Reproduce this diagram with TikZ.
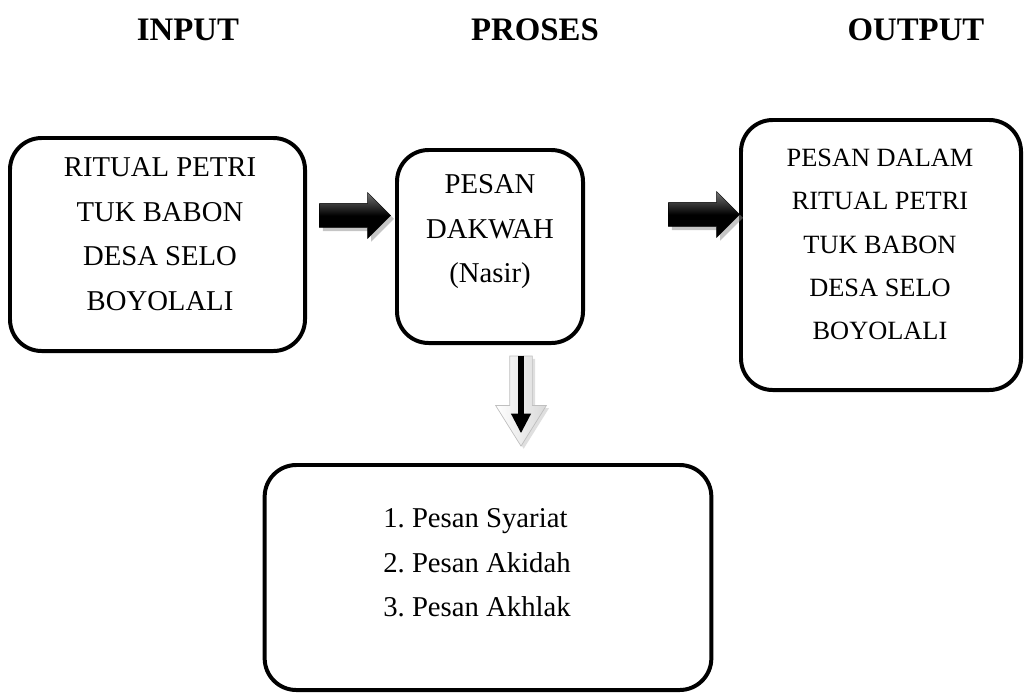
\documentclass[tikz,border=0pt]{standalone}
\usepackage{fontspec}
\setmainfont{Liberation Serif}
\usetikzlibrary{shapes.arrows,shadows,arrows.meta}

\begin{document}
\begin{tikzpicture}[x=0.03cm,y=-0.03cm,
		box/.style={draw=black,line width=3.4pt,rounded corners=0.95cm},
		heading/.style={font=\fontsize{28}{30}\selectfont\bfseries},
		boxtext/.style={align=center,font=\fontsize{24.5}{38}\selectfont},
		darkarrow/.style={single arrow,inner sep=0pt,minimum height=2.13cm,
			inner ysep=0.36cm,single arrow head extend=0.32cm,
			top color=black!55,bottom color=black,middle color=black,
			draw=black,line width=0.4pt,
			drop shadow={fill=black!45,shadow xshift=0.1cm,shadow yshift=-0.1cm}},
		lightarrow/.style={single arrow,inner sep=0pt,minimum height=2.7cm,
			inner xsep=0.33cm,single arrow head extend=0.42cm,single arrow tip angle=64,
			shape border rotate=270,left color=white,right color=black!15,
			draw=black!25,line width=0.6pt,
			drop shadow={fill=black!25,shadow xshift=0.08cm,shadow yshift=-0.08cm}}]
	\useasboundingbox (0,0) rectangle (1027,692);

	% judul kolom
	\node[heading] (judulinput) at (188,30) {INPUT};
	\node[heading] (judulproses) at (535,30) {PROSES};
	\node[heading] (juduloutput) at (916,30) {OUTPUT};

	% kotak
	\begin{scope}[every node/.style={box}]
		\node[minimum width=8.85cm,minimum height=6.39cm] (input) at (157.5,244.5) {};
		\node[minimum width=5.58cm,minimum height=5.79cm] (proses) at (490,246.5) {};
		\node[minimum width=8.4cm,minimum height=8.1cm] (output) at (881,255) {};
		\node[minimum width=13.4cm,minimum height=6.75cm] (pesan) at (488,577.5) {};
	\end{scope}

	% isi kotak
	\node[boxtext] (inputtxt) at (160,234) {RITUAL PETRI\\TUK BABON\\DESA SELO\\BOYOLALI};
	\node[boxtext] (prosestxt) at (490,232) {PESAN\\DAKWAH\\(Nasir)};
	\node[boxtext,font=\fontsize{22.5}{37}\selectfont] (outputtxt) at (880,244.5)
		{PESAN DALAM\\RITUAL PETRI\\TUK BABON\\DESA SELO\\BOYOLALI};
	\node[boxtext,align=left] (pesantxt) at (477,563) {1.\ Pesan Syariat\\2.\ Pesan Akidah\\3.\ Pesan Akhlak};

	% panah
	\node[darkarrow] (panahA) at (349,215.5) {};
	\node[darkarrow] (panahB) at (698,214.5) {};
	\node[lightarrow] (panahC) at (521,392) {};
	\draw[line width=5pt,-{Triangle[width=16pt,length=17pt]}] (panahC.tail) -- ([yshift=0.4cm]panahC.tip);
\end{tikzpicture}
\end{document}
